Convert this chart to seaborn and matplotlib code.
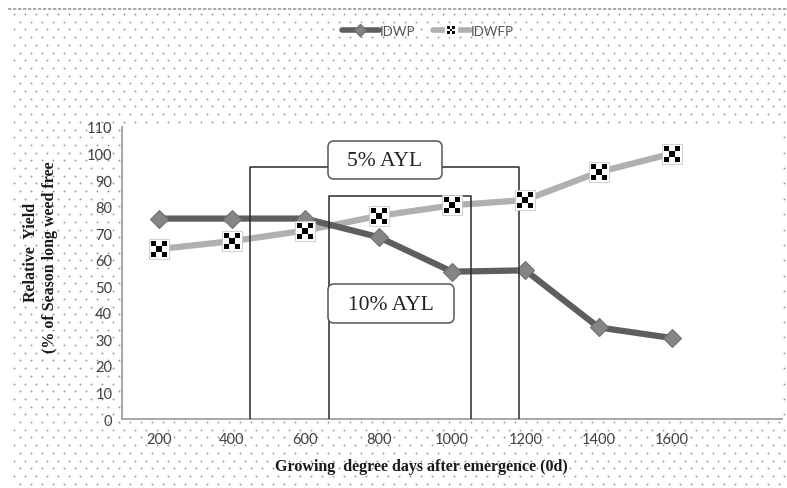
import numpy as np
import pandas as pd
import matplotlib
matplotlib.use("Agg")
import matplotlib.pyplot as plt
import seaborn as sns
from matplotlib.path import Path
from matplotlib.patches import FancyBboxPatch
from matplotlib.lines import Line2D
from matplotlib.legend_handler import HandlerTuple

# ---------------- data ----------------
gdd = [200, 400, 600, 800, 1000, 1200, 1400, 1600]
idwp = [75.5, 75.5, 75.5, 68.5, 55.5, 56.0, 34.5, 30.5]
idwfp = [64.0, 67.0, 71.0, 76.5, 80.5, 82.5, 93.0, 100.0]
series_names = ["IDWP", "IDWFP"]
window_5 = [450, 1183, 95]     # start, end, height
window_10 = [665, 1052, 84]
window_labels = ["5% AYL", "10% AYL"]
y_ticks = list(range(0, 111, 10))
x_label = "Growing  degree days after emergence (0d)"
y_label_1 = "Relative  Yield"
y_label_2 = "(% of Season long weed free"

df = pd.DataFrame({"gdd": gdd, "IDWP": idwp, "IDWFP": idwfp})

sns.set_theme(style="white")
plt.rcParams["font.family"] = ["Lato", "DejaVu Sans"]

W, H = 787, 489
fig = plt.figure(figsize=(W / 100, H / 100), dpi=100)
fig.patch.set_facecolor("white")

# ---------- dotted background ----------
bg = fig.add_axes([0, 0, 1, 1], zorder=-5)
bg.set_xlim(0, W)
bg.set_ylim(H, 0)
bg.axis("off")
xs, ys = [], []
row = 0
yy = 15.0
while yy < H:
    off = 0 if row % 2 == 0 else 5.5
    xx = 14.0 + off
    while xx < W:
        xs.append(xx)
        ys.append(yy)
        xx += 11.0
    yy += 7.7
    row += 1
bg.scatter(xs, ys, s=1.8, color="#949494", linewidths=0)
bg.plot([8, W], [10, 10], color="#9a9a9a", lw=1.2, ls=(0, (2, 1)))

# ---------- main axes ----------
left, right, bottom, top = 122, 782, 420, 128
ax = fig.add_axes([left / W, 1 - bottom / H, (right - left) / W, (bottom - top) / H])
ax.set_facecolor("white")

# window lines
for (x0, x1, h) in (window_5, window_10):
    ax.plot([x0, x0, x1, x1], [0, h, h, 0], color="#2a2a2a", lw=1.1, zorder=4)

# checker marker path
sq = []
codes = []
for (cx, cy) in [(-1, -1), (1, -1), (0, 0), (-1, 1), (1, 1)]:
    verts = [(cx - 0.5, cy - 0.5), (cx + 0.5, cy - 0.5), (cx + 0.5, cy + 0.5),
             (cx - 0.5, cy + 0.5), (cx - 0.5, cy - 0.5)]
    sq += verts
    codes += [Path.MOVETO, Path.LINETO, Path.LINETO, Path.LINETO, Path.CLOSEPOLY]
checker = Path(sq, codes)

sns.lineplot(data=df, x="gdd", y="IDWFP", ax=ax, color="#b0b0b0", lw=4.5, zorder=3)
sns.scatterplot(data=df, x="gdd", y="IDWFP", ax=ax, marker="s", s=190,
                color="white", edgecolor="#c8c8c8", linewidth=0.6, zorder=5)
sns.scatterplot(data=df, x="gdd", y="IDWFP", ax=ax, marker=checker, s=140,
                color="black", linewidth=0, zorder=6)

sns.lineplot(data=df, x="gdd", y="IDWP", ax=ax, color="#5e5e5e", lw=4.5,
             marker="D", markersize=9, markerfacecolor="#858585",
             markeredgecolor="#707070", markeredgewidth=0.8, zorder=3)

ax.set_xlim(100, 1900)
ax.set_ylim(0, 110)
ax.set_xticks(gdd)
ax.set_xticklabels([str(g) for g in gdd])
ax.set_xticks(np.arange(100, 1901, 200), minor=True)
ax.set_yticks(y_ticks)
ax.set_yticklabels([str(v) for v in y_ticks])
ax.tick_params(axis="x", which="major", length=0, pad=9, labelsize=10.5, labelcolor="#404040")
ax.tick_params(axis="x", which="minor", length=4, width=1, color="#a0a0a0", direction="out")
ax.tick_params(axis="y", length=4, width=1, color="#a0a0a0", direction="out", pad=3,
               labelsize=10.5, labelcolor="#404040")
for s in ("top", "right"):
    ax.spines[s].set_visible(False)
for s in ("left", "bottom"):
    ax.spines[s].set_color("#a0a0a0")
    ax.spines[s].set_linewidth(1.3)
ax.set_xlabel("")
ax.set_ylabel("")

# ---------- overlay: label boxes, axis titles, legend ----------
ov = fig.add_axes([0, 0, 1, 1], zorder=10)
ov.set_xlim(0, W)
ov.set_ylim(H, 0)
ov.axis("off")
ov.patch.set_alpha(0)

for (bx, by, bw, bh), lab in zip([(328, 142, 114, 38), (328, 285, 126, 39)], window_labels):
    ov.add_patch(FancyBboxPatch((bx + 5, by + 5), bw - 10, bh - 10,
                                boxstyle="round,pad=5,rounding_size=6",
                                fc="white", ec="#555555", lw=1.1))
    ov.text(bx + bw / 2, by + bh / 2 + 1, lab, ha="center", va="center",
            fontsize=15.5, family="Liberation Serif", color="#222222")

ov.text(421, 467, x_label, ha="center", va="center", fontsize=11.5,
        family="Liberation Serif", fontweight="bold", color="#1a1a1a")
ov.text(31, 252, y_label_1, ha="center", va="center", rotation=90, fontsize=11.5,
        family="Liberation Serif", fontweight="bold", color="#1a1a1a")
ov.text(50, 257, y_label_2, ha="center", va="center", rotation=90, fontsize=11.5,
        family="Liberation Serif", fontweight="bold", color="#1a1a1a")

h_dwp = Line2D([], [], color="#5e5e5e", lw=4, marker="D", markersize=6,
               markerfacecolor="#858585", markeredgecolor="#707070")
h_line = Line2D([], [], color="#b0b0b0", lw=4, marker="s", markersize=8,
                markerfacecolor="white", markeredgecolor="white")
h_chk = Line2D([], [], ls="none", marker=checker, markersize=6,
               markerfacecolor="black", markeredgewidth=0)
fig.legend([h_dwp, (h_line, h_chk)], series_names, loc="center",
           bbox_to_anchor=(428 / W, 1 - 32 / H),
           handler_map={tuple: HandlerTuple(ndivide=1, pad=0)},
           ncol=2, frameon=False, fontsize=9.5, handlelength=2.8, handletextpad=0.1,
           columnspacing=1.3, labelcolor="#555555")

fig.savefig("out.png", dpi=100)
